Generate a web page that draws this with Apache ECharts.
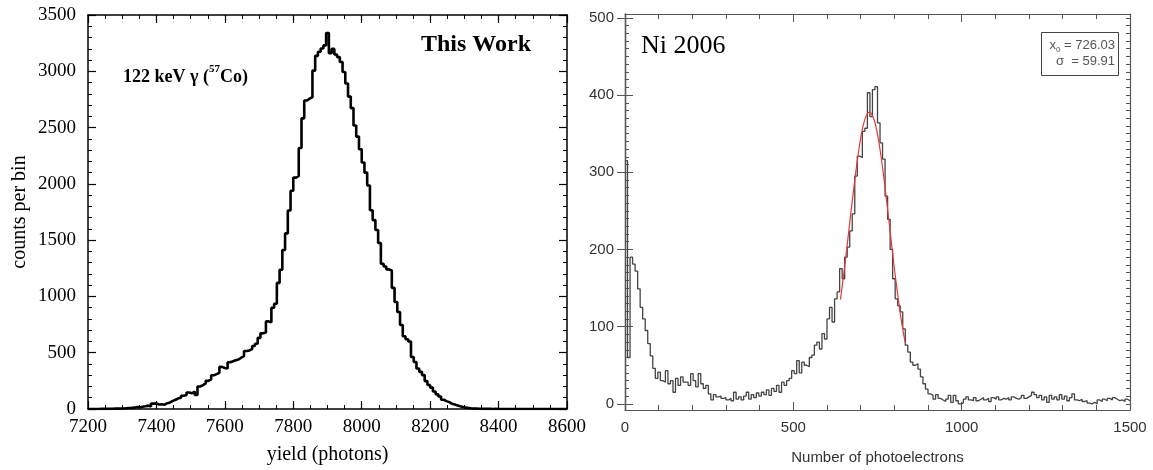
<!DOCTYPE html>
<html>
<head>
<meta charset="utf-8">
<script src="https://cdn.jsdelivr.net/npm/echarts@6/dist/echarts.min.js"></script>
<style>
  html, body { margin: 0; padding: 0; background: #fff; }
  #main { width: 1153px; height: 470px; }
</style>
</head>
<body>
<div id="main"></div>
<script>
// left panel: "This Work" histogram, 8 photon bins from 7200
var leftBinStart = 7200;
var leftBinWidth = 8;
var leftCounts = [
  0, 0, 0, 0, 1, 1, 1, 2, 2, 3, 3, 4, 5, 7, 9, 10, 12, 18, 16, 20,
  24, 30, 22, 48, 50, 40, 42, 38, 52, 58, 72, 82, 95, 100, 118, 125, 146, 140, 155, 125,
  200, 213, 228, 250, 263, 300, 310, 322, 374, 365, 360, 415, 424, 433, 440, 456, 470, 515, 520, 535,
  560, 579, 632, 672, 680, 778, 770, 900, 935, 1120, 1237, 1412, 1560, 1763, 1939, 2055, 2070, 2318, 2582, 2740,
  2757, 2770, 3006, 3137, 3173, 3202, 3230, 3340, 3161, 3199, 3149, 3126, 3082, 2994, 2892, 2775, 2673, 2518, 2420, 2307,
  2190, 2100, 1985, 1766, 1678, 1590, 1474, 1290, 1266, 1240, 1231, 1076, 950, 862, 746, 646, 620, 599, 462, 418,
  360, 330, 301, 248, 213, 190, 155, 130, 111, 82, 70, 61, 46, 40, 32, 24, 18, 12, 9, 6,
  4, 3, 2, 2, 1, 1, 1, 0, 1, 0, 0, 0, 0, 0, 0, 0, 0, 0, 0, 0,
  0, 0, 0, 0, 0, 0, 0, 0, 0, 0, 0, 0, 0, 0, 0
];

// right panel: Ni 2006 spectrum, 7.5 photoelectron bins from 0
var rightBinStart = 0;
var rightBinWidth = 7.5;
var rightCounts = [
  315, 60, 190, 181, 172, 149, 125, 110, 95, 78, 62, 46, 33, 41, 30, 28, 43, 26, 30, 15,
  33, 24, 35, 28, 28, 24, 39, 30, 22, 39, 26, 20, 24, 13, 5, 12, 9, 10, 7, 8,
  5, 7, 4, 15, 6, 9, 5, 10, 15, 6, 12, 8, 14, 10, 15, 12, 18, 11, 20, 16,
  24, 15, 28, 24, 30, 33, 43, 39, 56, 40, 54, 50, 48, 60, 63, 76, 80, 71, 91, 84,
  110, 125, 106, 136, 145, 175, 162, 190, 203, 224, 246, 295, 321, 319, 353, 357, 403, 372, 407, 411,
  364, 338, 317, 269, 239, 200, 162, 136, 127, 119, 97, 76, 67, 54, 50, 52, 45, 35, 26, 19,
  13, 11, 6, 12, 7, 5, 3, 6, 11, 2, 11, 4, 0, 1, 6, 9, 5, 4, 8, 4,
  6, 8, 5, 7, 3, 8, 6, 9, 5, 7, 6, 8, 5, 9, 7, 6, 8, 11, 7, 9,
  11, 15, 12, 8, 11, 5, 9, 2, 11, 6, 9, 5, 12, 6, 10, 4, 8, 13, 5, 4,
  6, 3, 4, 1, 0, 2, 0, 5, 3, 6, 4, 7, 5, 8, 6, 4, 5, 3, 6, 4
];

// gaussian fit curve (x0 = 726.03, sigma = 59.91)
var fitX = [640, 650, 660, 670, 680, 690, 700, 710, 720, 726, 730, 740, 750, 760, 770, 780, 790, 800, 810, 820, 832];
var fitY = [135, 169, 206, 244, 281, 315, 344, 365, 376, 378, 377, 368, 349, 322, 289, 252, 214, 176, 142, 110, 80];

var rightYMajor = [0, 100, 200, 300, 400, 500];
var rightYMinor = [];
for (var v = 0; v <= 500; v += 10) rightYMinor.push(v);

var serif = "'Liberation Serif', 'Times New Roman', serif";
var sans = "'Liberation Sans', Arial, sans-serif";

function plain(val) { return String(val); }

function histSteps(start, width, counts) {
  var pts = [];
  for (var i = 0; i < counts.length; i++) {
    pts.push([start + i * width, counts[i]]);
    pts.push([start + (i + 1) * width, counts[i]]);
  }
  return pts;
}

var fitData = fitX.map(function (x, i) { return [x, fitY[i]]; });

var chart = echarts.init(document.getElementById('main'), null, { renderer: 'canvas' });

function leftX(pos, labels) {
  return {
    type: 'value', gridIndex: 0, position: pos, min: 7200, max: 8600, interval: 200,
    axisLine: { show: true, onZero: false, lineStyle: { color: '#000', width: 1.5 } },
    axisTick: { show: true, inside: true, length: 8, lineStyle: { color: '#000', width: 1.2 } },
    minorTick: { show: true, splitNumber: 4, length: 4, lineStyle: { color: '#000', width: 1 } },
    splitLine: { show: false },
    axisLabel: { show: labels, formatter: plain, color: '#000', fontFamily: serif, fontSize: 19, margin: 9 },
    name: labels ? 'yield (photons)' : '', nameLocation: 'middle', nameGap: 36,
    nameTextStyle: { color: '#000', fontFamily: serif, fontSize: 20 }
  };
}
function leftY(pos, labels) {
  return {
    type: 'value', gridIndex: 0, position: pos, min: 0, max: 3500, interval: 500,
    axisLine: { show: true, lineStyle: { color: '#000', width: 1.5 } },
    axisTick: { show: true, inside: true, length: 8, lineStyle: { color: '#000', width: 1.2 } },
    minorTick: { show: true, splitNumber: 5, length: 4, lineStyle: { color: '#000', width: 1 } },
    splitLine: { show: false },
    axisLabel: { show: labels, formatter: plain, color: '#000', fontFamily: serif, fontSize: 19, margin: 12 },
    name: labels ? 'counts per bin' : '', nameLocation: 'middle', nameGap: 58,
    nameTextStyle: { color: '#000', fontFamily: serif, fontSize: 20 }
  };
}
function rightX(pos, labels) {
  return {
    type: 'value', gridIndex: 1, position: pos, min: 0, max: 1500, interval: 500,
    axisLine: { show: true, onZero: false, lineStyle: { color: '#555', width: 1.2 } },
    axisTick: { show: true, inside: true, length: 8, lineStyle: { color: '#555', width: 1 } },
    minorTick: { show: true, splitNumber: 5, length: 5, lineStyle: { color: '#555', width: 1 } },
    splitLine: { show: false },
    axisLabel: { show: labels, formatter: plain, color: '#333', fontFamily: sans, fontSize: 15, margin: 10 },
    name: labels ? 'Number of photoelectrons' : '', nameLocation: 'middle', nameGap: 40,
    nameTextStyle: { color: '#333', fontFamily: sans, fontSize: 15 }
  };
}
function rightY(pos, ticks, len, labels) {
  return {
    type: 'value', gridIndex: 1, position: pos, min: -8, max: 505,
    axisLine: { show: true, lineStyle: { color: '#555', width: 1.2 } },
    axisTick: { show: true, inside: true, length: len, customValues: ticks, lineStyle: { color: '#555', width: 1 } },
    splitLine: { show: false },
    axisLabel: { show: labels, customValues: rightYMajor, formatter: plain, color: '#333', fontFamily: sans, fontSize: 15, margin: 11 }
  };
}

var option = {
  backgroundColor: '#fff',
  animation: false,
  grid: [
    { left: 88, top: 15, width: 479, height: 397 },
    { left: 625, top: 14, width: 505, height: 399 }
  ],
  xAxis: [leftX('bottom', true), leftX('top', false), rightX('bottom', true), rightX('top', false)],
  // right grid: third axis flips to the left side, fourth to the right side
  yAxis: [
    leftY('left', true), leftY('right', false),
    rightY('left', rightYMajor, 8, true), rightY('right', rightYMajor, 8, false),
    rightY('right', rightYMinor, 4, false), rightY('left', rightYMinor, 4, false)
  ],
  series: [
    {
      type: 'line', xAxisIndex: 0, yAxisIndex: 0, data: histSteps(leftBinStart, leftBinWidth, leftCounts),
      symbol: 'none', clip: true, lineStyle: { color: '#000', width: 2.6 }
    },
    {
      type: 'line', xAxisIndex: 2, yAxisIndex: 2, data: histSteps(rightBinStart, rightBinWidth, rightCounts),
      symbol: 'none', clip: true, lineStyle: { color: '#444', width: 1.3 }
    },
    {
      type: 'line', xAxisIndex: 2, yAxisIndex: 2, data: fitData, smooth: true,
      symbol: 'none', clip: true, lineStyle: { color: '#e23a3a', width: 1.2 }, z: 3
    }
  ],
  graphic: [
    {
      type: 'text', left: 123, top: 64,
      style: {
        text: '{b|122 keV γ (}{s|57}{b|Co)}',
        rich: {
          b: { fontFamily: serif, fontSize: 18, fontWeight: 'bold', fill: '#000', lineHeight: 22, verticalAlign: 'bottom' },
          s: { fontFamily: serif, fontSize: 11, fontWeight: 'bold', fill: '#000', lineHeight: 22, verticalAlign: 'top' }
        }
      }
    },
    {
      type: 'text', left: 421, top: 33,
      style: { text: 'This Work', fontFamily: serif, fontSize: 24, fontWeight: 'bold', fill: '#000' }
    },
    {
      type: 'text', left: 641, top: 33,
      style: { text: 'Ni 2006', fontFamily: serif, fontSize: 26, fill: '#000' }
    },
    {
      type: 'rect', left: 1041, top: 32,
      shape: { width: 77, height: 43 },
      style: { fill: '#fff', stroke: '#444', lineWidth: 1 }
    },
    {
      type: 'text', right: 1153 - 1115, top: 39,
      style: {
        text: '{a|x}{s|0}{a| = 726.03}', align: 'right',
        rich: {
          a: { fontFamily: sans, fontSize: 13, fill: '#555', lineHeight: 15, verticalAlign: 'top' },
          s: { fontFamily: sans, fontSize: 8, fill: '#555', lineHeight: 15, verticalAlign: 'bottom' }
        }
      }
    },
    {
      type: 'text', right: 1153 - 1115, top: 55,
      style: { text: 'σ  = 59.91', fontFamily: sans, fontSize: 13, fill: '#555', align: 'right' }
    }
  ]
};

chart.setOption(option);
</script>
</body>
</html>
